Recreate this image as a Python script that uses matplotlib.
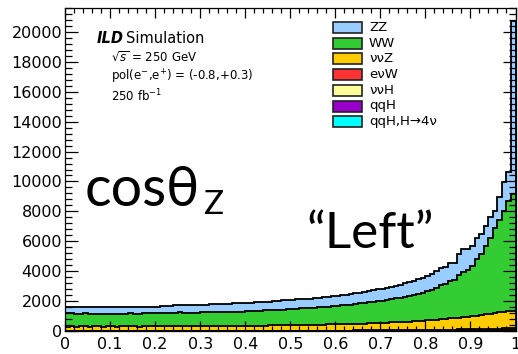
import numpy as np
import matplotlib
matplotlib.use('Agg')
import matplotlib.pyplot as plt
from matplotlib.patches import Rectangle

# cos(theta_Z), 100 bins from 0 to 1, events per bin (250 fb-1, "Left" polarisation)
bin_edges = np.linspace(0, 1, 101)

zz = [400, 420, 430, 440, 420, 450, 460, 430, 450, 470, 440, 420, 450, 460, 420, 440, 430, 420, 450, 430,
      440, 450, 460, 470, 480, 470, 490, 500, 510, 520, 530, 520, 540, 550, 560, 540, 570, 560, 580, 600,
      560, 550, 570, 580, 560, 600, 590, 600, 610, 620, 600, 620, 630, 640, 620, 640, 650, 660, 650, 680,
      680, 690, 700, 710, 720, 730, 740, 760, 780, 790, 810, 820, 840, 860, 880, 900, 920, 940, 960, 990,
      1020, 1080, 1130, 1190, 1090, 1230, 1130, 1430, 1570, 1420, 1350, 1420, 1300, 1360, 1370, 1160, 1540, 1950, 1960, 11600]

ww = [890, 870, 875, 860, 865, 850, 845, 865, 850, 840, 850, 865, 835, 840, 870, 850, 865, 875, 860, 885,
      880, 895, 900, 905, 915, 925, 915, 905, 910, 900, 905, 915, 910, 925, 900, 935, 920, 945, 930, 905,
      960, 975, 990, 985, 1010, 1000, 1030, 1040, 1050, 1060, 1085, 1090, 1110, 1100, 1130, 1150, 1160, 1180, 1190, 1210,
      1230, 1250, 1270, 1300, 1330, 1350, 1380, 1400, 1430, 1460, 1480, 1510, 1550, 1590, 1620, 1670, 1720, 1770, 1830, 1880,
      1940, 2020, 2130, 2270, 2350, 2475, 2550, 2820, 2990, 3110, 3330, 3750, 4110, 4570, 5080, 5690, 6150, 6700, 7330, 7800]

nnz = [290, 300, 285, 295, 300, 290, 305, 295, 290, 300, 298, 292, 300, 305, 295, 300, 290, 302, 308, 300,
       305, 310, 300, 312, 308, 315, 310, 318, 312, 320, 322, 318, 325, 320, 330, 328, 335, 330, 338, 340,
       342, 338, 345, 350, 348, 355, 360, 358, 365, 370, 372, 378, 375, 385, 390, 392, 398, 405, 410, 415,
       420, 428, 432, 440, 448, 455, 462, 470, 480, 490, 500, 510, 522, 535, 548, 560, 575, 590, 605, 620,
       640, 660, 680, 700, 720, 745, 770, 795, 820, 850, 880, 910, 940, 975, 1010, 1050, 1090, 1130, 1170, 1150]

evw = [5, 4, 6, 5, 5, 6, 4, 5, 6, 5, 6, 5, 5, 6, 7, 5, 6, 6, 5, 7,
       6, 7, 6, 7, 8, 7, 8, 7, 8, 9, 8, 9, 8, 10, 9, 10, 9, 11, 10, 11,
       11, 12, 11, 12, 13, 12, 14, 13, 14, 15, 15, 16, 16, 17, 17, 18, 19, 19, 20, 21,
       22, 23, 24, 25, 26, 27, 28, 30, 31, 33, 35, 36, 38, 40, 42, 44, 46, 48, 51, 54,
       57, 60, 63, 66, 70, 74, 78, 82, 86, 90, 95, 100, 105, 110, 116, 122, 128, 134, 140, 150]

nnh = [2, 1, 2, 2, 1, 2, 2, 1, 2, 2, 2, 1, 2, 2, 2, 1, 2, 2, 2, 1,
       2, 2, 1, 2, 2, 2, 2, 1, 2, 2, 2, 2, 2, 1, 2, 2, 2, 2, 2, 2,
       2, 2, 2, 2, 3, 2, 2, 2, 3, 2, 3, 2, 3, 3, 2, 3, 3, 3, 3, 3,
       3, 3, 4, 3, 4, 4, 3, 4, 4, 4, 4, 4, 5, 4, 5, 5, 5, 5, 6, 5,
       6, 6, 6, 7, 7, 7, 8, 8, 8, 9, 9, 10, 10, 11, 11, 12, 12, 13, 14, 15]

qqh = [1, 1, 2, 1, 1, 1, 2, 1, 1, 1, 2, 1, 1, 2, 1, 1, 1, 2, 1, 1,
       1, 2, 1, 1, 2, 1, 1, 2, 1, 2, 1, 1, 2, 1, 2, 1, 2, 2, 1, 2,
       2, 1, 2, 2, 2, 1, 2, 2, 2, 2, 2, 2, 3, 2, 2, 2, 3, 2, 3, 2,
       3, 3, 2, 3, 3, 3, 3, 3, 4, 3, 4, 4, 4, 4, 4, 5, 5, 5, 5, 6,
       6, 6, 7, 7, 7, 8, 8, 9, 9, 10, 10, 11, 12, 12, 13, 14, 15, 16, 17, 19]

qqh4nu = [0, 1, 0, 0, 1, 0, 0, 1, 0, 0, 1, 0, 0, 1, 0, 0, 1, 0, 0, 1,
          0, 1, 0, 1, 0, 0, 1, 0, 1, 0, 1, 0, 1, 0, 1, 1, 0, 1, 0, 1,
          1, 0, 1, 1, 0, 1, 1, 0, 1, 1, 1, 1, 0, 1, 1, 1, 1, 1, 1, 1,
          1, 1, 1, 1, 2, 1, 1, 1, 2, 1, 2, 1, 2, 2, 1, 2, 2, 2, 2, 2,
          2, 2, 3, 2, 3, 3, 3, 3, 3, 4, 4, 4, 4, 5, 5, 5, 6, 6, 7, 8]

# legend order (top of stack first)
labels = ["ZZ", "WW", "\u03bd\u03bdZ", "e\u03bdW", "\u03bd\u03bdH", "qqH", "qqH,H\u2192" + "4\u03bd"]
series = [zz, ww, nnz, evw, nnh, qqh, qqh4nu]
colors = ["#99ccff", "#33cc33", "#ffcc00", "#ff3333", "#ffff99", "#9900cc", "#00ffff"]

xticks = [0, 0.1, 0.2, 0.3, 0.4, 0.5, 0.6, 0.7, 0.8, 0.9, 1]
xticklabels = ["0", "0.1", "0.2", "0.3", "0.4", "0.5", "0.6", "0.7", "0.8", "0.9", "1"]
yticks = [0, 2000, 4000, 6000, 8000, 10000, 12000, 14000, 16000, 18000, 20000]

W, H = 518, 354
fig = plt.figure(figsize=(W / 100, H / 100), dpi=100)
ax = fig.add_axes([65 / W, 23 / H, 450.5 / W, 323 / H])

# stacked histogram: cumulative sums, bottom of stack is the last series
arr = np.array(series[::-1], dtype=float)
cum = np.cumsum(arr, axis=0)[::-1]
for k in range(len(series)):
    ax.stairs(cum[k], bin_edges, baseline=0, fill=True, facecolor=colors[k], edgecolor='none')
    ax.stairs(cum[k], bin_edges, baseline=0, color='black', linewidth=1.3)

ax.set_xlim(0, 1)
ax.set_ylim(0, 21600)
ax.set_xticks(xticks)
ax.set_xticklabels(xticklabels)
ax.set_xticks(np.arange(0, 1.001, 0.02), minor=True)
ax.set_yticks(yticks)
ax.set_yticklabels([str(v) for v in yticks])
ax.set_yticks(np.arange(0, 21601, 400), minor=True)
ax.tick_params(axis='both', which='both', direction='in', top=True, right=True,
               labelsize=11.5, color='black', width=0.9)
ax.tick_params(axis='x', which='major', length=7, pad=4)
ax.tick_params(axis='x', which='minor', length=3.5)
ax.tick_params(axis='y', which='major', length=9.5, pad=2)
ax.tick_params(axis='y', which='minor', length=4.8)
for sp in ax.spines.values():
    sp.set_linewidth(0.9)

# legend drawn by hand, ROOT style
def px(x, y):
    return x / W, 1 - y / H

for i, (lab, col) in enumerate(zip(labels, colors)):
    yc = 27.5 + i * 15.7
    fig.patches.append(Rectangle(px(333, yc + 5.5), 29 / W, 11 / H, transform=fig.transFigure,
                                 facecolor=col, edgecolor='#222222', linewidth=1.2))
    fig.text(*px(369, yc), lab, fontsize=9.5, va='center', ha='left')

fig.text(*px(97, 43), "ILD", fontsize=10.5, fontweight='bold', fontstyle='italic', va='baseline')
fig.text(*px(126, 43), "Simulation", fontsize=10.5, va='baseline')
fig.text(*px(111, 58), r"$\sqrt{s}$ = 250 GeV", fontsize=8.5, va='center')
fig.text(*px(111, 77), r"pol(e$^{-}$,e$^{+}$) = (-0.8,+0.3)", fontsize=8.5, va='center')
fig.text(*px(111, 96), r"250 fb$^{-1}$", fontsize=8.5, va='center')

big = ['Lato', 'DejaVu Sans']
fig.text(*px(85, 206), "cos\u03b8", fontsize=40, family=big, va='baseline')
fig.text(*px(203, 214), "Z", fontsize=24, family=big, va='baseline')
fig.text(*px(306, 248), "\u201cLeft\u201d", fontsize=37, family=big, va='baseline')

fig.savefig("out.png", dpi=100)
